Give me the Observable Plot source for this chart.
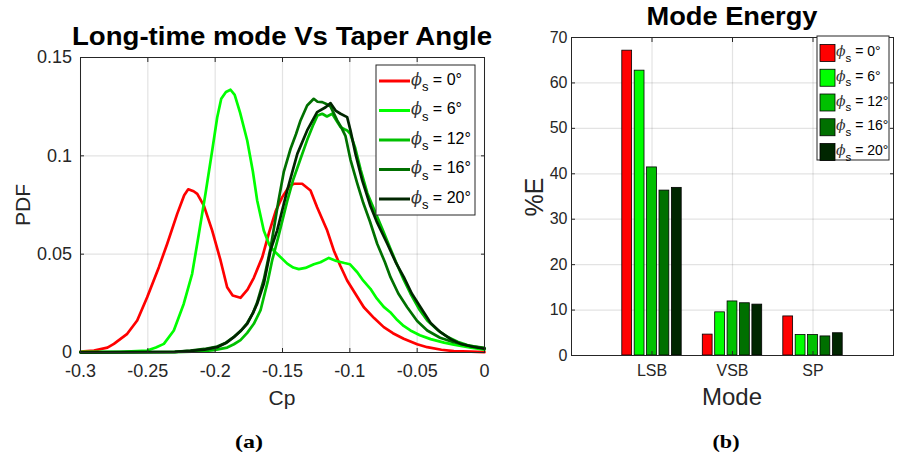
<!DOCTYPE html>
<html><head><meta charset="utf-8">
<script src="https://cdn.jsdelivr.net/npm/d3@7"></script>
<script src="https://cdn.jsdelivr.net/npm/@observablehq/plot@0.6"></script>
<style>
body{margin:0;background:#fff}
#fig{position:relative;width:897px;height:462px;background:#fff;overflow:hidden}
#fig > *{position:absolute}
</style></head><body>
<div id="fig"><div id="left" style="left:0;top:0"></div><div id="right" style="left:490px;top:0"></div><svg id="overlay" width="897" height="462" style="left:0;top:0"></svg></div>
<script>
// ---------- DATA ----------
const seriesLabels = ["0°", "6°", "12°", "16°", "20°"];
const seriesColors = ["#ff0000", "#00ff00", "#00c000", "#007000", "#002600"];

// PDF of Cp, panel (a): [Cp, PDF]
const pdf0 = [[-0.300,0.0005],[-0.290,0.0010],[-0.280,0.0025],[-0.2752,0.0044],[-0.2653,0.0095],[-0.2579,0.0163],[-0.2505,0.0281],[-0.2418,0.0434],[-0.2356,0.0553],[-0.2282,0.0705],[-0.2230,0.0800],[-0.2200,0.0830],[-0.2160,0.0820],[-0.2133,0.0807],[-0.2084,0.0747],[-0.2022,0.0620],[-0.1960,0.0468],[-0.1911,0.0332],[-0.1870,0.0290],[-0.1812,0.0278],[-0.1760,0.0320],[-0.1713,0.0380],[-0.1650,0.0485],[-0.1600,0.0610],[-0.1550,0.0720],[-0.1502,0.0790],[-0.1450,0.0845],[-0.1416,0.0858],[-0.1354,0.0858],[-0.1292,0.0824],[-0.1243,0.0739],[-0.1168,0.0620],[-0.1119,0.0519],[-0.1070,0.0440],[-0.1020,0.0366],[-0.0960,0.0300],[-0.0896,0.0230],[-0.0820,0.0175],[-0.0748,0.0129],[-0.0680,0.0098],[-0.0600,0.0070],[-0.0500,0.0042],[-0.0425,0.0027],[-0.0320,0.0014],[-0.0228,0.0007],[-0.0100,0.0004],[0.0000,0.0002]];
const pdf6 = [[-0.300,0.0003],[-0.270,0.0003],[-0.2505,0.0010],[-0.2440,0.0025],[-0.2381,0.0044],[-0.2307,0.0112],[-0.2233,0.0248],[-0.2171,0.0400],[-0.2121,0.0604],[-0.2072,0.0807],[-0.2022,0.1027],[-0.1985,0.1195],[-0.1955,0.1290],[-0.1920,0.1325],[-0.1886,0.1336],[-0.1855,0.1310],[-0.1815,0.1220],[-0.1762,0.1078],[-0.1720,0.0920],[-0.1688,0.0773],[-0.1639,0.0620],[-0.1600,0.0550],[-0.1564,0.0517],[-0.1510,0.0482],[-0.1465,0.0452],[-0.1420,0.0432],[-0.1379,0.0424],[-0.1330,0.0430],[-0.1267,0.0449],[-0.1218,0.0459],[-0.1156,0.0481],[-0.1100,0.0465],[-0.1040,0.0455],[-0.1000,0.0449],[-0.0945,0.0408],[-0.0900,0.0365],[-0.0847,0.0324],[-0.0800,0.0275],[-0.0748,0.0232],[-0.0700,0.0205],[-0.0648,0.0165],[-0.0600,0.0135],[-0.0550,0.0112],[-0.0480,0.0088],[-0.0400,0.0068],[-0.0300,0.0050],[-0.0228,0.0040],[-0.0100,0.0025],[0.0000,0.0014]];
const pdf12 = [[-0.300,0.0001],[-0.230,0.0002],[-0.211,0.0005],[-0.201,0.0012],[-0.1911,0.0025],[-0.1861,0.0042],[-0.1812,0.0063],[-0.1762,0.0100],[-0.1713,0.0146],[-0.1663,0.0215],[-0.1639,0.0281],[-0.1610,0.0360],[-0.1577,0.0468],[-0.1530,0.0590],[-0.1465,0.0770],[-0.1420,0.0880],[-0.1366,0.0985],[-0.1317,0.1080],[-0.1270,0.1160],[-0.1240,0.1205],[-0.1205,0.1214],[-0.1170,0.1200],[-0.1131,0.1214],[-0.1100,0.1180],[-0.1069,0.1146],[-0.1040,0.1135],[-0.1020,0.1129],[-0.0995,0.1110],[-0.0960,0.1040],[-0.0920,0.0930],[-0.0870,0.0810],[-0.0815,0.0720],[-0.0760,0.0630],[-0.0700,0.0530],[-0.0648,0.0445],[-0.0600,0.0370],[-0.0550,0.0300],[-0.0480,0.0215],[-0.0425,0.0163],[-0.0350,0.0115],[-0.0277,0.0080],[-0.0200,0.0055],[-0.0128,0.0038],[0.0000,0.0020]];
const pdf16 = [[-0.300,0.0001],[-0.230,0.0003],[-0.2183,0.0010],[-0.2080,0.0018],[-0.1985,0.0030],[-0.1920,0.0050],[-0.1861,0.0080],[-0.1810,0.0110],[-0.1762,0.0150],[-0.1720,0.0200],[-0.1688,0.0255],[-0.1639,0.0370],[-0.1589,0.0530],[-0.1564,0.0630],[-0.1530,0.0770],[-0.1490,0.0920],[-0.1440,0.1036],[-0.1400,0.1110],[-0.1366,0.1180],[-0.1317,0.1256],[-0.1268,0.1290],[-0.1240,0.1275],[-0.1205,0.1273],[-0.1170,0.1262],[-0.1143,0.1250],[-0.1094,0.1180],[-0.1060,0.1140],[-0.1032,0.1100],[-0.0995,0.0980],[-0.0945,0.0860],[-0.0900,0.0760],[-0.0850,0.0665],[-0.0797,0.0553],[-0.0740,0.0460],[-0.0698,0.0383],[-0.0640,0.0300],[-0.0574,0.0230],[-0.0500,0.0160],[-0.0425,0.0112],[-0.0330,0.0075],[-0.0228,0.0052],[-0.0100,0.0032],[0.0000,0.0024]];
const pdf20 = [[-0.300,0.0001],[-0.230,0.0003],[-0.2183,0.0008],[-0.2080,0.0015],[-0.1985,0.0027],[-0.1920,0.0048],[-0.1861,0.0078],[-0.1810,0.0110],[-0.1762,0.0146],[-0.1720,0.0200],[-0.1688,0.0248],[-0.1639,0.0349],[-0.1589,0.0519],[-0.1540,0.0620],[-0.1465,0.0824],[-0.1390,0.1010],[-0.1317,0.1129],[-0.1243,0.1222],[-0.1180,0.1247],[-0.1143,0.1268],[-0.1106,0.1230],[-0.1069,0.1214],[-0.1020,0.1197],[-0.0995,0.1129],[-0.0958,0.1010],[-0.0908,0.0875],[-0.0847,0.0745],[-0.0797,0.0660],[-0.0722,0.0553],[-0.0660,0.0460],[-0.0599,0.0383],[-0.0540,0.0300],[-0.0475,0.0230],[-0.0400,0.0150],[-0.0327,0.0103],[-0.0250,0.0068],[-0.0178,0.0044],[-0.0080,0.0028],[0.0000,0.0019]];

const cpTicks = [-0.3, -0.25, -0.2, -0.15, -0.1, -0.05, 0];
const pdfTicks = [0, 0.05, 0.1, 0.15];

// Mode energy, panel (b): %E per mode, one value per taper angle
const modes = ["LSB", "VSB", "SP"];
const energyLSB = [67.1, 62.7, 41.4, 36.3, 36.9];
const energyVSB = [4.6, 9.5, 11.9, 11.5, 11.2];
const energySP = [8.6, 4.5, 4.5, 4.2, 4.9];
const energyTicks = [0, 10, 20, 30, 40, 50, 60, 70];

// text
const titleA = "Long-time mode Vs Taper Angle";
const titleB = "Mode Energy";
const xLabelA = "Cp", yLabelA = "PDF", xLabelB = "Mode", yLabelB = "%E";
const tagA = "(a)", tagB = "(b)";

// ---------- BUILD ----------
const FONT = "'Liberation Sans', Arial, Helvetica, sans-serif";
const AX = "#262626";
const fmt = d => String(d);
const blank = () => "";

const curves = [pdf0, pdf6, pdf12, pdf16, pdf20];
const curveRows = curves.flatMap((c, k) => c.map(([cp, pdf]) => ({cp, pdf, series: seriesLabels[k]})));

const leftPlot = Plot.plot({
  width: 490, height: 462,
  marginLeft: 80, marginRight: 6, marginTop: 57, marginBottom: 110,
  style: {fontFamily: FONT, fontSize: "18px", color: AX, background: "transparent", overflow: "visible"},
  x: {domain: [-0.3, 0], label: null},
  y: {domain: [0, 0.15], label: null},
  color: {domain: seriesLabels, range: seriesColors},
  marks: [
    Plot.gridX(cpTicks, {stroke: AX, strokeOpacity: 0.13, strokeWidth: 1.2}),
    Plot.gridY(pdfTicks, {stroke: AX, strokeOpacity: 0.13, strokeWidth: 1.2}),
    Plot.line(curveRows, {x: "cp", y: "pdf", z: "series", stroke: "series", strokeWidth: 2.7, strokeLinejoin: "round"}),
    Plot.frame({stroke: AX, strokeWidth: 1}),
    Plot.axisX(cpTicks, {anchor: "bottom", tickSize: -4, tickPadding: 16, tickFormat: fmt, label: null}),
    Plot.axisX(cpTicks, {anchor: "top", tickSize: -4, tickFormat: blank, label: null}),
    Plot.axisY(pdfTicks, {anchor: "left", tickSize: -4, tickPadding: 12.5, tickFormat: fmt, label: null}),
    Plot.axisY(pdfTicks, {anchor: "right", tickSize: -4, tickFormat: blank, label: null})
  ]
});
document.getElementById("left").append(leftPlot);

const BAR_STEP = 0.154, BAR_W = 0.122;
const energyByMode = [energyLSB, energyVSB, energySP];
const barRows = [];
modes.forEach((m, i) => energyByMode[i].forEach((v, k) =>
  barRows.push({mode: m, series: seriesLabels[k], pos: i + 1 + (k - 2) * BAR_STEP, value: v})));

const rightPlot = Plot.plot({
  width: 407, height: 462,
  marginLeft: 81, marginRight: 4, marginTop: 37, marginBottom: 107,
  style: {fontFamily: FONT, fontSize: "16px", color: AX, background: "transparent", overflow: "visible"},
  x: {domain: [0, 4], label: null},
  y: {domain: [0, 70], label: null},
  color: {domain: seriesLabels, range: seriesColors},
  marks: [
    Plot.gridX([1, 2, 3], {stroke: AX, strokeOpacity: 0.13, strokeWidth: 1.2}),
    Plot.gridY(energyTicks, {stroke: AX, strokeOpacity: 0.13, strokeWidth: 1.2}),
    Plot.rect(barRows, {x1: d => d.pos - BAR_W / 2, x2: d => d.pos + BAR_W / 2, y1: 0, y2: "value", fill: "series", stroke: "#000", strokeWidth: 0.8}),
    Plot.frame({stroke: AX, strokeWidth: 1}),
    Plot.axisX([1, 2, 3], {anchor: "bottom", tickSize: -4, tickPadding: 13, tickFormat: i => modes[i - 1], label: null}),
    Plot.axisX([1, 2, 3], {anchor: "top", tickSize: -4, tickFormat: blank, label: null}),
    Plot.axisY(energyTicks, {anchor: "left", tickSize: -4, tickPadding: 8, tickFormat: fmt, label: null}),
    Plot.axisY(energyTicks, {anchor: "right", tickSize: -4, tickFormat: blank, label: null})
  ]
});
document.getElementById("right").append(rightPlot);

// ---------- OVERLAY TEXT & LEGENDS ----------
const ov = d3.select("#overlay").style("font-family", FONT);
function label(x, y, s, {size = 18, weight = "normal", fill = "#000", rotate = 0, family = FONT, length = null} = {}) {
  const t = ov.append("text").attr("x", x).attr("y", y).attr("text-anchor", "middle")
    .attr("font-size", size).attr("font-weight", weight).attr("fill", fill).attr("font-family", family).text(s);
  if (rotate) t.attr("transform", `rotate(${rotate},${x},${y})`);
  if (length) t.attr("textLength", length).attr("lengthAdjust", "spacingAndGlyphs");
  return t;
}
label(282, 45, titleA, {size: 26, weight: "bold", length: 420});
label(732, 25, titleB, {size: 26, weight: "bold", length: 171});
label(282, 405, xLabelA, {size: 21, fill: AX});
label(30, 205, yLabelA, {size: 21, fill: AX, rotate: -90});
label(732, 405, xLabelB, {size: 24, fill: AX});
label(543, 197, yLabelB, {size: 25, fill: AX, rotate: -90});
label(249, 448, tagA, {size: 19, weight: "bold", family: "'Liberation Serif', 'Times New Roman', serif", length: 28});
label(726, 448, tagB, {size: 19, weight: "bold", family: "'Liberation Serif', 'Times New Roman', serif", length: 27});

function legendText(g, x, y, s, size, subSize, subDy) {
  const t = g.append("text").attr("x", x).attr("y", y).attr("font-size", size).attr("fill", "#000");
  t.append("tspan").attr("font-family", "'DejaVu Serif', 'Liberation Serif', serif").attr("font-style", "italic").attr("fill", "#333").text("ϕ");
  t.append("tspan").attr("font-size", subSize).attr("dy", subDy).text("s");
  t.append("tspan").attr("dy", -subDy).text(" = " + s);
}
// legend (a)
const lgA = ov.append("g");
lgA.append("rect").attr("x", 376).attr("y", 65).attr("width", 99).attr("height", 150).attr("fill", "#fff").attr("stroke", AX).attr("stroke-width", 1);
seriesLabels.forEach((s, i) => {
  const c = 81 + i * 29.5;
  lgA.append("line").attr("x1", 379).attr("x2", 410).attr("y1", c).attr("y2", c).attr("stroke", seriesColors[i]).attr("stroke-width", 3);
  legendText(lgA, 411, c + 3.5, s, 16, 13, 6.5);
});
// legend (b)
const lgB = ov.append("g");
lgB.append("rect").attr("x", 817).attr("y", 36).attr("width", 72).attr("height", 124).attr("fill", "#fff").attr("stroke", AX).attr("stroke-width", 1);
seriesLabels.forEach((s, i) => {
  const c = 53 + i * 24.75;
  lgB.append("rect").attr("x", 820).attr("y", c - 8.5).attr("width", 15).attr("height", 17).attr("fill", seriesColors[i]).attr("stroke", "#000").attr("stroke-width", 0.8);
  legendText(lgB, 836, c + 3, s, 14, 11.5, 5.5);
});
</script></body></html>
